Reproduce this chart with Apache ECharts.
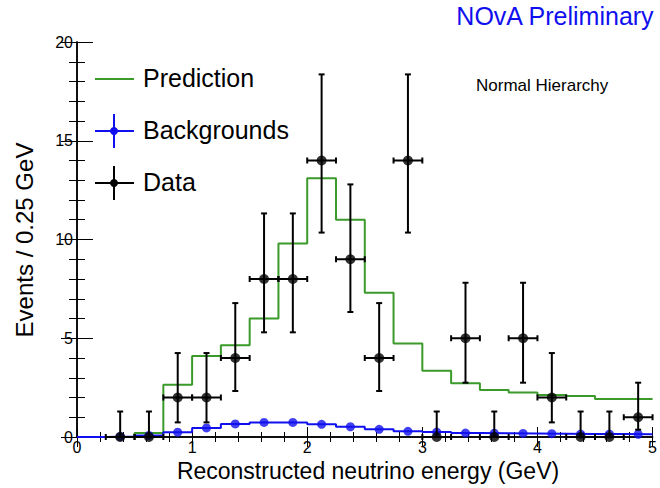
<!DOCTYPE html>
<html>
<head>
<meta charset="utf-8">
<script src="https://cdn.jsdelivr.net/npm/echarts@6/dist/echarts.min.js"></script>
<style>
html,body{margin:0;padding:0;background:#fff;}
#chart{width:660px;height:488px;}
</style>
</head>
<body>
<div id="chart"></div>
<script>
// Bin edges (GeV), left edge of each 0.25 GeV bin, plus final edge
var binEdges = [0,0.25,0.5,0.75,1.0,1.25,1.5,1.75,2.0,2.25,2.5,2.75,3.0,3.25,3.5,3.75,4.0,4.25,4.5,4.75,5.0];
var binCenters = [0.125,0.375,0.625,0.875,1.125,1.375,1.625,1.875,2.125,2.375,2.625,2.875,3.125,3.375,3.625,3.875,4.125,4.375,4.625,4.875];
// Prediction per bin (events / 0.25 GeV)
var prediction = [0.0,0.0,0.2,2.65,4.1,4.65,6.0,9.8,13.1,11.0,7.3,4.73,3.35,2.72,2.38,2.25,2.13,2.08,1.93,1.93];
// Backgrounds per bin
var backgrounds = [0.0,0.03,0.08,0.24,0.46,0.66,0.74,0.74,0.64,0.52,0.39,0.29,0.25,0.2,0.19,0.18,0.17,0.15,0.15,0.14];
// Data points (bin centers), counts and error bar ends
var dataX = [0.375,0.625,0.875,1.125,1.375,1.625,1.875,2.125,2.375,2.625,2.875,3.125,3.375,3.625,3.875,4.125,4.375,4.625,4.875];
var dataY = [0,0,2,2,4,8,8,14,9,4,14,0,5,0,5,2,0,0,1];
var dataLo = [0,0,0.74,0.74,2.33,5.30,5.30,10.35,6.33,2.33,10.35,0,2.75,0,2.75,0.74,0,0,0.37];
var dataHi = [1.29,1.29,4.25,4.25,6.78,11.32,11.32,18.36,12.79,6.78,18.36,1.29,7.81,1.29,7.81,4.25,1.29,1.29,2.75];
var binHalf = 0.125;
var yTicks = [0,5,10,15,20];
var xTicks = [0,1,2,3,4,5];

var FONT = "'Liberation Sans', Arial, Helvetica, sans-serif";
var GREEN = '#3a9a2a', BLUE = '#1010ee', BLACK = '#000000';

function stepData(vals){
  var d = [];
  for (var i = 0; i < vals.length; i++) d.push([binEdges[i], vals[i]]);
  d.push([binEdges[vals.length], vals[vals.length-1]]);
  return d;
}

var bgDots = [];
for (var i = 1; i < binCenters.length; i++) bgDots.push([binCenters[i], backgrounds[i]]);

var errData = [];
for (var j = 0; j < dataX.length; j++) errData.push([dataX[j], dataY[j], dataLo[j], dataHi[j]]);

var chart = echarts.init(document.getElementById('chart'), null, {renderer:'svg'});

var axisCommon = {
  axisLine:{show:true,lineStyle:{color:BLACK,width:1.5}},
  splitLine:{show:false}
};

var option = {
  animation:false,
  backgroundColor:'#fff',
  grid:{left:77,right:3,top:42,bottom:51},
  xAxis:[
    Object.assign({type:'value',min:0,max:5,interval:1,position:'bottom',
      axisTick:{inside:true,length:10,lineStyle:{color:BLACK,width:1}},
      minorTick:{show:true,splitNumber:5,length:5,lineStyle:{color:BLACK,width:1}},
      axisLabel:{fontFamily:FONT,fontSize:16,color:BLACK,margin:2,
        formatter:function(v){return xTicks.indexOf(v)>=0?String(v):'';}}
    }, axisCommon),
    Object.assign({type:'value',min:0,max:5,interval:1,position:'top',
      axisTick:{inside:true,length:10,lineStyle:{color:BLACK,width:1}},
      minorTick:{show:true,splitNumber:5,length:5,lineStyle:{color:BLACK,width:1}},
      axisLabel:{show:false}
    }, axisCommon)
  ],
  yAxis:[
    Object.assign({type:'value',min:0,max:20,interval:5,position:'left',
      axisTick:{inside:true,length:16,lineStyle:{color:BLACK,width:1}},
      minorTick:{show:true,splitNumber:5,length:8,lineStyle:{color:BLACK,width:1}},
      axisLabel:{fontFamily:FONT,fontSize:16,color:BLACK,margin:4,
        formatter:function(v){return yTicks.indexOf(v)>=0?String(v):'';}}
    }, axisCommon),
    Object.assign({type:'value',min:0,max:20,interval:5,position:'right',
      axisTick:{inside:true,length:16,lineStyle:{color:BLACK,width:1}},
      minorTick:{show:true,splitNumber:5,length:8,lineStyle:{color:BLACK,width:1}},
      axisLabel:{show:false}
    }, axisCommon)
  ],
  series:[
    {
      name:'Prediction', type:'line', step:'end', data:stepData(prediction),
      showSymbol:false, symbol:'none', lineStyle:{color:GREEN,width:2}, z:3
    },
    {
      name:'Backgrounds', type:'line', step:'end', data:stepData(backgrounds),
      showSymbol:false, symbol:'none', lineStyle:{color:BLUE,width:2}, z:4
    },
    {
      name:'BackgroundsDots', type:'scatter', data:bgDots, symbol:'circle', symbolSize:9,
      itemStyle:{color:BLUE}, z:5
    },
    {
      name:'DataErr', type:'custom', data:errData, z:6,
      encode:{x:0,y:[1,2,3]},
      renderItem:function(params, api){
        var x = api.value(0), y = api.value(1), lo = api.value(2), hi = api.value(3);
        var pLo = api.coord([x,lo]);
        var pHi = api.coord([x,hi]);
        var pL = api.coord([x-binHalf,y]);
        var pR = api.coord([x+binHalf,y]);
        var st = {stroke:BLACK,lineWidth:2};
        var cap = 3, cap2 = 3;
        return {type:'group', children:[
          {type:'line',shape:{x1:pLo[0],y1:pLo[1],x2:pHi[0],y2:pHi[1]},style:st},
          {type:'line',shape:{x1:pHi[0]-cap,y1:pHi[1],x2:pHi[0]+cap,y2:pHi[1]},style:st},
          {type:'line',shape:{x1:pLo[0]-cap,y1:pLo[1],x2:pLo[0]+cap,y2:pLo[1]},style:st},
          {type:'line',shape:{x1:pL[0],y1:pL[1],x2:pR[0],y2:pR[1]},style:st},
          {type:'line',shape:{x1:pL[0],y1:pL[1]-cap2,x2:pL[0],y2:pL[1]+cap2},style:st},
          {type:'line',shape:{x1:pR[0],y1:pR[1]-cap2,x2:pR[0],y2:pR[1]+cap2},style:st}
        ]};
      }
    },
    {
      name:'Data', type:'scatter', data:dataX.map(function(x,k){return [x,dataY[k]];}),
      symbol:'circle', symbolSize:10, itemStyle:{color:BLACK}, z:7
    }
  ],
  graphic:[
    // Legend
    {type:'line',shape:{x1:95,y1:79,x2:134,y2:79},style:{stroke:GREEN,lineWidth:2},z:10},
    {type:'text',left:143,top:65,style:{text:'Prediction',font:'25px '+FONT,fill:BLACK},z:10},
    {type:'line',shape:{x1:95,y1:131,x2:134,y2:131},style:{stroke:BLUE,lineWidth:2},z:10},
    {type:'line',shape:{x1:114,y1:114,x2:114,y2:148},style:{stroke:BLUE,lineWidth:2},z:10},
    {type:'circle',shape:{cx:114,cy:131,r:4},style:{fill:BLUE},z:10},
    {type:'text',left:143,top:117,style:{text:'Backgrounds',font:'25px '+FONT,fill:BLACK},z:10},
    {type:'line',shape:{x1:95,y1:183,x2:134,y2:183},style:{stroke:BLACK,lineWidth:2},z:10},
    {type:'line',shape:{x1:114,y1:166,x2:114,y2:200},style:{stroke:BLACK,lineWidth:2},z:10},
    {type:'circle',shape:{cx:114,cy:183,r:4},style:{fill:BLACK},z:10},
    {type:'text',left:143,top:169,style:{text:'Data',font:'25px '+FONT,fill:BLACK},z:10},
    // Annotations
    {type:'text',left:476,top:77,style:{text:'Normal Hierarchy',font:'17px '+FONT,fill:BLACK},z:10},
    {type:'text',right:5,top:3,style:{text:'NOvA Preliminary',font:'25px '+FONT,fill:BLUE},z:10},
    // Axis titles
    {type:'text',x:368,y:471,style:{text:'Reconstructed neutrino energy (GeV)',font:'23px '+FONT,fill:BLACK,textAlign:'center',textVerticalAlign:'middle'},z:10},
    {type:'text',x:24,y:240,rotation:Math.PI/2,style:{text:'Events / 0.25 GeV',font:'24px '+FONT,fill:BLACK,textAlign:'center',textVerticalAlign:'middle'},z:10}
  ]
};
chart.setOption(option);
</script>
</body>
</html>
